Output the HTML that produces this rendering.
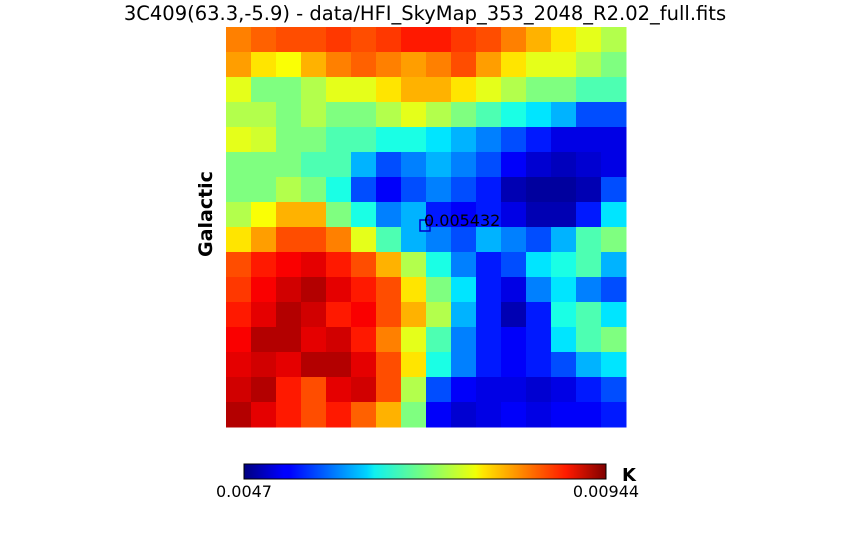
<!DOCTYPE html>
<html><head><meta charset="utf-8"><style>
html,body{margin:0;padding:0;background:#fff;width:850px;height:540px;overflow:hidden;font-family:"DejaVu Sans","Liberation Sans",sans-serif}
</style></head><body>
<svg id="chart" width="850" height="540" xmlns="http://www.w3.org/2000/svg">
<text x="425" y="20" text-anchor="middle" font-size="19.5">3C409(63.3,-5.9) - data/HFI_SkyMap_353_2048_R2.02_full.fits</text>
<text transform="translate(212,214) rotate(-90)" text-anchor="middle" font-size="19" font-weight="bold">Galactic</text>
<g id="map"></g>
<rect x="420" y="220" width="10" height="11" fill="none" stroke="#0000cc" stroke-width="1.5"/>
<text x="424" y="226" font-size="16">0.005432</text>
<defs><linearGradient id="jet" x1="0" x2="1" y1="0" y2="0">
<stop offset="0" stop-color="#00007f"/><stop offset="0.11" stop-color="#0000ff"/><stop offset="0.125" stop-color="#0000ff"/><stop offset="0.34" stop-color="#00d4ff"/><stop offset="0.36" stop-color="#0ff0f0"/><stop offset="0.5" stop-color="#7aff7a"/><stop offset="0.64" stop-color="#f0ff06"/><stop offset="0.66" stop-color="#ffe600"/><stop offset="0.89" stop-color="#ff1a00"/><stop offset="1" stop-color="#7f0000"/>
</linearGradient></defs>
<rect x="244" y="464" width="362" height="15" fill="url(#jet)" stroke="#000" stroke-width="1"/>
<text id="tmin" x="244" y="497" text-anchor="middle" font-size="16"></text>
<text id="tmax" x="606" y="497" text-anchor="middle" font-size="16"></text>
<text x="622" y="481" font-size="18" font-weight="bold">K</text>
</svg>
<script>
const tickLabels=["0.0047","0.00944"];
const vmin=0.0047, vmax=0.00944;
const row0=[0.75,0.78,0.8,0.8,0.82,0.8,0.82,0.85,0.85,0.82,0.8,0.75,0.7,0.65,0.6,0.55];
const row1=[0.72,0.65,0.62,0.7,0.75,0.78,0.75,0.72,0.75,0.8,0.72,0.65,0.6,0.6,0.55,0.5];
const row2=[0.6,0.5,0.5,0.55,0.6,0.6,0.65,0.7,0.7,0.65,0.6,0.55,0.5,0.5,0.45,0.45];
const row3=[0.55,0.55,0.5,0.55,0.5,0.5,0.55,0.6,0.55,0.5,0.45,0.4,0.35,0.3,0.2,0.2];
const row4=[0.6,0.58,0.5,0.5,0.45,0.45,0.4,0.4,0.35,0.3,0.25,0.2,0.15,0.1,0.1,0.1];
const row5=[0.5,0.5,0.5,0.45,0.45,0.3,0.2,0.25,0.3,0.25,0.2,0.12,0.08,0.06,0.08,0.1];
const row6=[0.5,0.5,0.55,0.5,0.4,0.2,0.12,0.2,0.25,0.2,0.15,0.05,0.03,0.03,0.05,0.2];
const row7=[0.55,0.62,0.7,0.7,0.5,0.4,0.25,0.3,0.15,0.12,0.15,0.1,0.05,0.05,0.15,0.35];
const row8=[0.65,0.72,0.8,0.8,0.75,0.6,0.45,0.3,0.25,0.2,0.3,0.25,0.2,0.3,0.45,0.5];
const row9=[0.8,0.85,0.88,0.9,0.85,0.8,0.7,0.55,0.4,0.25,0.15,0.2,0.35,0.4,0.45,0.3];
const row10=[0.82,0.88,0.92,0.95,0.9,0.85,0.8,0.65,0.5,0.35,0.15,0.1,0.25,0.35,0.25,0.2];
const row11=[0.85,0.9,0.95,0.92,0.85,0.88,0.8,0.7,0.55,0.3,0.15,0.05,0.15,0.4,0.45,0.35];
const row12=[0.88,0.95,0.95,0.9,0.92,0.85,0.75,0.6,0.45,0.25,0.15,0.12,0.15,0.35,0.45,0.5];
const row13=[0.9,0.92,0.9,0.95,0.95,0.9,0.8,0.65,0.4,0.25,0.15,0.12,0.15,0.2,0.3,0.35];
const row14=[0.92,0.95,0.85,0.8,0.9,0.92,0.8,0.55,0.2,0.12,0.1,0.1,0.08,0.1,0.15,0.2];
const row15=[0.95,0.9,0.85,0.8,0.85,0.78,0.7,0.5,0.12,0.08,0.1,0.12,0.1,0.12,0.12,0.15];
const rows=[row0,row1,row2,row3,row4,row5,row6,row7,row8,row9,row10,row11,row12,row13,row14,row15];

document.getElementById('tmin').textContent=tickLabels[0];
document.getElementById('tmax').textContent=tickLabels[1];
function jet(t){t=Math.max(0,Math.min(1,t));
 const c=v=>Math.round(255*Math.max(0,Math.min(1,v)));
 const r=1.5-Math.abs(4*t-3), g=1.5-Math.abs(4*t-2), b=1.5-Math.abs(4*t-1);
 return `rgb(${c(r)},${c(g)},${c(b)})`;}
const X0=226,Y0=27,W=400,H=400;
const xScale=i=>X0+i*W/rows[0].length;
const yScale=j=>Y0+j*H/rows.length;
const g=document.getElementById('map');
rows.forEach((row,j)=>row.forEach((f,i)=>{
 const val=vmin+f*(vmax-vmin);
 const r=document.createElementNS('http://www.w3.org/2000/svg','rect');
 r.setAttribute('x',xScale(i));r.setAttribute('y',yScale(j));
 r.setAttribute('width',xScale(i+1)-xScale(i)+0.5);r.setAttribute('height',yScale(j+1)-yScale(j)+0.5);
 r.setAttribute('fill',jet((val-vmin)/(vmax-vmin)));
 
 
 g.appendChild(r);
}));
</script>
</body></html>
